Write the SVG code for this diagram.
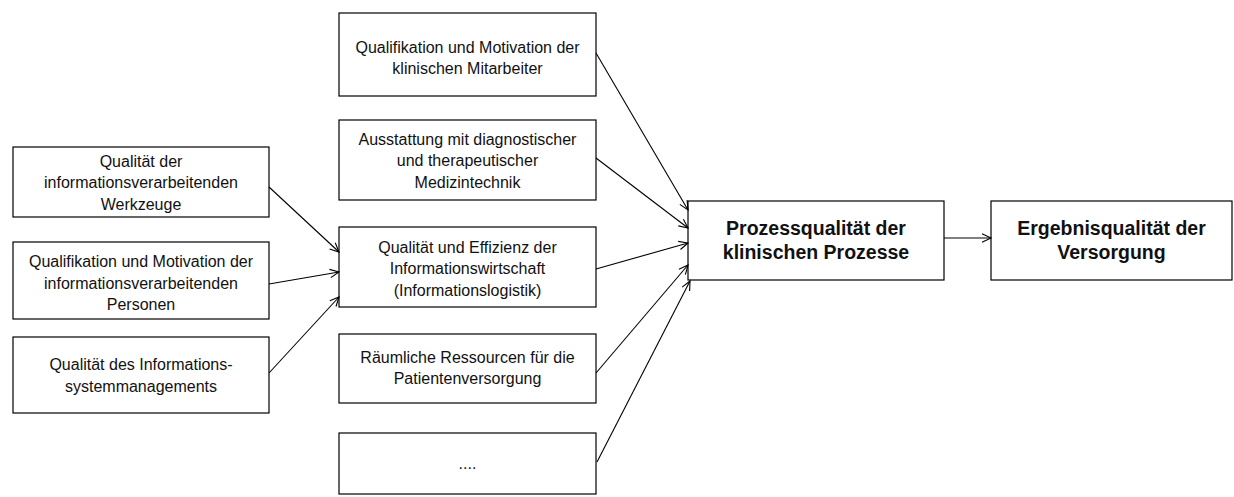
<svg xmlns="http://www.w3.org/2000/svg" width="1234" height="497" viewBox="0 0 1234 497">
  <defs>
    <style>
      .box { fill: #fff; stroke: #000; stroke-width: 1.2; }
      .txt { font-family: "Liberation Sans", Arial, sans-serif; font-size: 16px; fill: #111; text-anchor: middle; }
      .bold { font-family: "Liberation Sans", Arial, sans-serif; font-size: 19.5px; font-weight: bold; fill: #111; text-anchor: middle; }
      .edge { stroke: #000; stroke-width: 1.1; fill: none; marker-end: url(#arrow); }
    </style>
    <marker id="arrow" markerUnits="userSpaceOnUse" markerWidth="12" markerHeight="12" refX="10" refY="6" orient="auto">
      <path d="M1,1.8 L10,6 L1,10.2" fill="none" stroke="#000" stroke-width="1.1"/>
    </marker>
  </defs>

  <rect width="1234" height="497" fill="#fff"/>

  <!-- left column: factors of information processing -->
  <g id="werkzeuge">
    <rect class="box" x="13" y="147" width="256" height="70"/>
    <text class="txt" x="141" y="166.5">Qualität der</text>
    <text class="txt" x="141" y="188">informationsverarbeitenden</text>
    <text class="txt" x="141" y="209.5">Werkzeuge</text>
  </g>
  <g id="personen">
    <rect class="box" x="13" y="242" width="256" height="77"/>
    <text class="txt" x="141" y="267">Qualifikation und Motivation der</text>
    <text class="txt" x="141" y="288.5">informationsverarbeitenden</text>
    <text class="txt" x="141" y="310">Personen</text>
  </g>
  <g id="management">
    <rect class="box" x="13" y="337" width="256" height="76"/>
    <text class="txt" x="141" y="370">Qualität des Informations-</text>
    <text class="txt" x="141" y="391.5">systemmanagements</text>
  </g>

  <!-- middle column: resources of the clinical processes -->
  <g id="mitarbeiter">
    <rect class="box" x="339" y="13" width="257" height="83"/>
    <text class="txt" x="467.5" y="52.5">Qualifikation und Motivation der</text>
    <text class="txt" x="467.5" y="74">klinischen Mitarbeiter</text>
  </g>
  <g id="medizintechnik">
    <rect class="box" x="339" y="120" width="257" height="80"/>
    <text class="txt" x="467.5" y="144.5">Ausstattung mit diagnostischer</text>
    <text class="txt" x="467.5" y="166">und therapeutischer</text>
    <text class="txt" x="467.5" y="187.5">Medizintechnik</text>
  </g>
  <g id="informationswirtschaft">
    <rect class="box" x="339" y="227" width="257" height="80"/>
    <text class="txt" x="467.5" y="252.5">Qualität und Effizienz der</text>
    <text class="txt" x="467.5" y="274">Informationswirtschaft</text>
    <text class="txt" x="467.5" y="295.5">(Informationslogistik)</text>
  </g>
  <g id="raeume">
    <rect class="box" x="339" y="334" width="257" height="69"/>
    <text class="txt" x="467.5" y="362.5">Räumliche Ressourcen für die</text>
    <text class="txt" x="467.5" y="384">Patientenversorgung</text>
  </g>
  <g id="weitere">
    <rect class="box" x="339" y="433" width="257" height="61"/>
    <text class="txt" x="467.5" y="469">....</text>
  </g>

  <!-- outcome chain -->
  <g id="prozessqualitaet">
    <rect class="box" x="688" y="201" width="256" height="79"/>
    <text class="bold" x="816" y="234.5">Prozessqualität der</text>
    <text class="bold" x="816" y="259">klinischen Prozesse</text>
  </g>
  <g id="ergebnisqualitaet">
    <rect class="box" x="991" y="201" width="241" height="79"/>
    <text class="bold" x="1111.5" y="234.5">Ergebnisqualität der</text>
    <text class="bold" x="1111.5" y="259">Versorgung</text>
  </g>

  <!-- connectors -->
  <g id="connectors">
    <line class="edge" x1="269" y1="187" x2="339" y2="252"/>
    <line class="edge" x1="269" y1="284" x2="339" y2="272"/>
    <line class="edge" x1="269" y1="373" x2="339" y2="297"/>

    <line class="edge" x1="596" y1="53" x2="688" y2="210"/>
    <line class="edge" x1="596" y1="158" x2="688" y2="228"/>
    <line class="edge" x1="596" y1="269" x2="688" y2="243"/>
    <line class="edge" x1="596" y1="373" x2="688" y2="265"/>
    <line class="edge" x1="597" y1="462" x2="690" y2="281"/>

    <line class="edge" x1="944" y1="238" x2="991" y2="238"/>
  </g>
</svg>
